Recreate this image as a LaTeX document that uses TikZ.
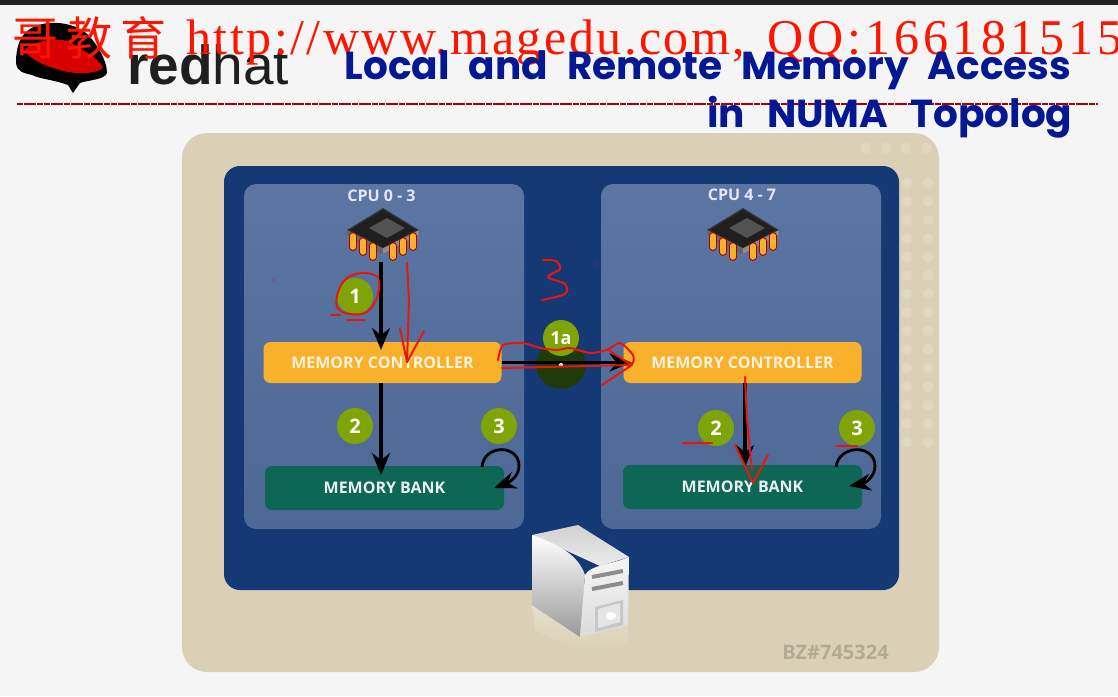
\documentclass[tikz,border=0pt]{standalone}
\usepackage{xcolor}
\usepackage{fontspec}
\usepackage{tikz}
\usetikzlibrary{positioning, arrows.meta}
\setmainfont{Open Sans}
\newfontfamily\urlfont[LetterSpace=5]{Liberation Serif}
\newfontfamily\cjkfont{Noto Sans CJK SC}
\newfontfamily\titlefont[WordSpace=2.3]{Poppins}
\newfontfamily\logofont{Liberation Sans}
\definecolor{tanpanel}{RGB}{217, 208, 181}
\definecolor{tandot}{RGB}{223, 215, 191}
\definecolor{navypanel}{RGB}{21, 57, 116}
\definecolor{cpupaneltop}{RGB}{92, 118, 163}
\definecolor{cpupanelbot}{RGB}{78, 104, 150}
\definecolor{ctrlorange}{RGB}{249, 176, 42}
\definecolor{bankgreen}{RGB}{14, 102, 85}
\definecolor{dotgreen}{RGB}{127, 164, 5}
\definecolor{darkspot}{RGB}{33, 58, 10}
\definecolor{titleblue}{RGB}{4, 24, 148}
\definecolor{inkred}{RGB}{232, 22, 14}
\definecolor{urlred}{RGB}{255, 20, 0}

\begin{document}
\begin{tikzpicture}[
    x=1pt, y=-1pt,
    cpupanel/.style={rectangle, rounded corners=12pt, top color=cpupaneltop, bottom color=cpupanelbot, minimum width=280pt, minimum height=345pt, outer sep=0pt},
    ctrlbox/.style={rectangle, rounded corners=7pt, fill=ctrlorange, text=white!85!ctrlorange, font=\fontsize{16}{16}\selectfont\bfseries, minimum width=238pt, minimum height=41pt, outer sep=0pt},
    bankbox/.style={rectangle, rounded corners=7pt, fill=bankgreen, text=white!90!bankgreen, font=\fontsize{16}{16}\selectfont\bfseries, minimum width=239pt, minimum height=44pt, outer sep=0pt},
    cpulabel/.style={text=white!90!blue, font=\fontsize{16}{16}\selectfont\bfseries},
    numdot/.style={circle, fill=dotgreen, text=white, font=\fontsize{20}{20}\selectfont\bfseries, minimum size=36pt, inner sep=0pt},
    chipspot/.style={rectangle, minimum width=72pt, minimum height=54pt, outer sep=0pt},
    arrow/.style={-{Stealth[length=22pt, width=18pt]}, line width=3.4pt, black},
    looparrow/.style={-{Stealth[length=22pt, width=17pt]}, line width=2.8pt, black},
    ink/.style={inkred, line width=2pt, line join=round, line cap=round},
    title/.style={text=titleblue, anchor=base east, font=\fontsize{39}{39}\selectfont\titlefont\bfseries},
    pin/.style={line cap=round},
    pics/cpuchip/.style={code={
        \fill[black!80] (-36,0) -- (0,-22) -- (36,0) -- (36,5) -- (0,24) -- (-36,5) -- cycle;
        \fill[black!60] (-36,5) -- (0,24) -- (0,18) -- (-36,0) -- cycle;
        \fill[black!45] (36,5) -- (0,24) -- (0,18) -- (36,0) -- cycle;
        \foreach \px/\py in {-30/6, -20/11, -10/16, 10/16, 20/11, 30/6} {
            \draw[pin, red!70!black, line width=8pt] (\px,\py) -- (\px,\py+11);
            \draw[pin, ctrlorange, line width=5.5pt] (\px,\py) -- (\px,\py+11);
        }
        \fill[black!88] (-33,0) -- (0,-20) -- (33,0) -- (0,18) -- cycle;
        \fill[black!68] (-14,-2) -- (4,-12) -- (22,-2) -- (4,8) -- cycle;
    }}
]
    \useasboundingbox (0,0) rectangle (1118,696);

    % Slide
    \fill[white!96!black] (0,0) rectangle (1118,696);
    \fill[black!87] (0,0) rectangle (1118,4.5);

    % Logo
    \fill[black] (16,63) .. controls (16,45) and (21,30) .. (39,25) .. controls (55,20) and (75,24) .. (86,33)
        .. controls (96,42) and (107,60) .. (107,73) .. controls (104,80) and (88,80) .. (80,83)
        -- (73,93) -- (68,85) .. controls (55,80) and (40,79) .. (32,75) .. controls (24,73) and (17,72) .. (16,63) -- cycle;
    \fill[red!85!black] (24,50) .. controls (35,40) and (58,37) .. (70,42) .. controls (80,48) and (98,58) .. (103,67)
        .. controls (100,74) and (75,75) .. (60,70) .. controls (48,67) and (30,60) .. (24,50) -- cycle;
    \node[anchor=base west, inner sep=0pt, font=\fontsize{55}{55}\selectfont\logofont, text=black!88] (logoname) at (127,84) {\textbf{red}hat};

    % Watermark
    \node[anchor=base west, inner sep=0pt, text=urlred, font=\fontsize{46}{46}\selectfont\cjkfont] (brand) at (12,55) {哥\hspace{8pt}教\hspace{8pt}育};
    \node[anchor=base west, inner sep=0pt, text=urlred, font=\fontsize{50}{50}\selectfont\urlfont] (weburl) at (186,54) {http://www.magedu.com,\hspace{7pt} \addfontfeature{LetterSpace=8}QQ:166181515};

    % Rule and title
    \coordinate (ruleleft) at (17,104);
    \coordinate (ruleright) at (1098,104);
    \draw[red!65!black, line width=1.9pt, dash pattern=on 6pt off 0.7pt] (ruleleft) -- (ruleright);
    \node[title] (titleone) at (1075,79) {Local and Remote Memory Access};
    \node[title] (titletwo) at (1076,127) {in\hspace{3pt} NUMA\hspace{3pt} Topolog};

    % Panels
    \fill[tanpanel, rounded corners=25pt] (182,133) rectangle (939,672);
    \foreach \dy in {0,...,14} {
        \fill[tandot] (907,183+\dy*18.5) circle (5.5);
        \fill[tandot] (928,183+\dy*18.5) circle (5.5);
    }
    \foreach \dx in {0,...,3} {
        \fill[tandot] (866+\dx*20,148) circle (5.5);
    }
    \fill[navypanel, rounded corners=16pt] (224,166) rectangle (899,590);
    \node[cpupanel] (panela) at (384,356.5) {};
    \node[cpupanel, right=77pt of panela] (panelb) {};

    % CPUs
    \node[cpulabel] (cpua) at (381.5,196) {CPU 0 - 3};
    \node[cpulabel] (cpub) at (742,195) {CPU 4 - 7};
    \node[chipspot] (chipa) at (381,235) {};
    \node[chipspot, right=360pt of chipa] (chipb) {};
    \pic at (383,230) {cpuchip};
    \pic at (743,230) {cpuchip};

    % Memory
    \node[ctrlbox] (mca) at (382.5,362.5) {MEMORY CONTROLLER};
    \node[ctrlbox, right=122pt of mca] (mcb) {MEMORY CONTROLLER};
    \node[bankbox, below=83pt of mca, xshift=2pt] (banka) {MEMORY BANK};
    \node[bankbox, right=119pt of banka, yshift=1pt] (bankb) {MEMORY BANK};

    % Steps
    \fill[darkspot] (561,365) ellipse (25 and 24);
    \node[numdot] (stepone) at (355,296) {1};
    \node[numdot, font=\fontsize{18}{18}\selectfont\bfseries] (steponea) at (561,338) {1a};
    \node[numdot] (steptwo) at (355,426) {2};
    \node[numdot] (stepthree) at (499,426) {3};
    \node[numdot] (steptwob) at (716,428) {2};
    \node[numdot] (stepthreeb) at (857,428) {3};

    % Arrows
    \draw[arrow, shorten >=-8pt] (chipa) -- (chipa |- mca.north);
    \draw[arrow, shorten >=-9pt] (mca.south -| chipa) -- (chipa |- banka.north);
    \draw[arrow, shorten >=-8pt] (mca.east) -- (mcb.west);
    \draw[arrow, shorten >=-2pt] (mcb.south) ++(2.5,0) coordinate (mcbout) -- (mcbout |- bankb.north);
    \coordinate (loopa) at ([xshift=-22pt, yshift=-1pt]banka.north east);
    \coordinate (loopaend) at ([xshift=-10pt]banka.east);
    \coordinate (loopb) at ([xshift=-26pt, yshift=-2pt]bankb.north east);
    \coordinate (loopbend) at ([xshift=-13pt, yshift=1pt]bankb.east);
    \draw[looparrow] (loopa) .. controls (484,444) and (519,444) .. (519,466) .. controls (519,476) and (510,482) .. (loopaend);
    \draw[looparrow] (loopb) .. controls (839,444) and (875,444) .. (875,466) .. controls (875,476) and (866,483) .. (loopbend);
    \fill[white] (561,365) circle (2);
    \fill[red!50!white] (561,365) circle (0.8);

    % Pen marks
    \draw[ink] (378,277) .. controls (370,271) and (355,272) .. (347,278) .. controls (338,285) and (335,300) .. (337,307)
        .. controls (340,314) and (358,317) .. (367,312) .. controls (375,306) and (381,292) .. (379,280);
    \draw[ink] (331,315) -- (340,315);
    \draw[ink] (347,320) -- (365,320);
    \draw[ink] (407,263) -- (409,300) -- (407,362) -- (400,328);
    \draw[ink] (407,362) -- (424,331);
    \draw[ink] plot[smooth, tension=0.5] coordinates {(543,260) (556,261) (560,269) (548,277) (565,284) (565,294) (542,300)};
    \draw[ink] plot[smooth, tension=0.4] coordinates {(498,360) (503,345) (523,343) (540,348) (557,350) (570,348) (590,353) (607,350)
        (620,343) (633,355) (631,364) (607,349)};
    \draw[ink] (502,368) -- (632,365) -- (602,385);
    \draw[ink] (745,377) -- (747,420) -- (752,470);
    \draw[ink] (735,445) -- (753,483) -- (768,455);
    \draw[ink] (683,443) -- (712,443);
    \draw[ink] (836,446) -- (857,446);
    \fill[inkred] (273,280) circle (0.9);
    \fill[inkred] (595,264) circle (0.9);

    % Server
    \shade[top color=tanpanel!70!white, bottom color=tanpanel] (532,605) -- (580,637) -- (628,625) -- (628,645) -- (580,652) -- (535,630) -- cycle;
    \shade[top color=black!18, bottom color=black!8] (532,535) -- (578,525) -- (629,557) -- (600,566) -- cycle;
    \shade[top color=white, bottom color=black!40] (532,535) .. controls (560,545) and (578,555) .. (585,575) -- (580,637) -- (532,605) -- cycle;
    \shade[top color=black!4, bottom color=black!14] (585,575) .. controls (590,565) and (610,565) .. (629,557) -- (628,625) -- (580,637) -- cycle;
    \draw[black!45, line width=4pt] (592,577) -- (623,571);
    \draw[black!45, line width=4pt] (592,589) -- (623,583);
    \fill[black!22] (595,607) -- (623,600) -- (623,625) -- (595,632) -- cycle;
    \fill[black!10] (598,609) -- (620,603) -- (620,622) -- (598,628) -- cycle;
    \fill[white] (611,616) ellipse (5 and 4);

    % Tag
    \node[text=tanpanel!82!black, font=\fontsize{20}{20}\selectfont\bfseries] (bugtag) at (835.5,652) {BZ\#745324};
\end{tikzpicture}
\end{document}
